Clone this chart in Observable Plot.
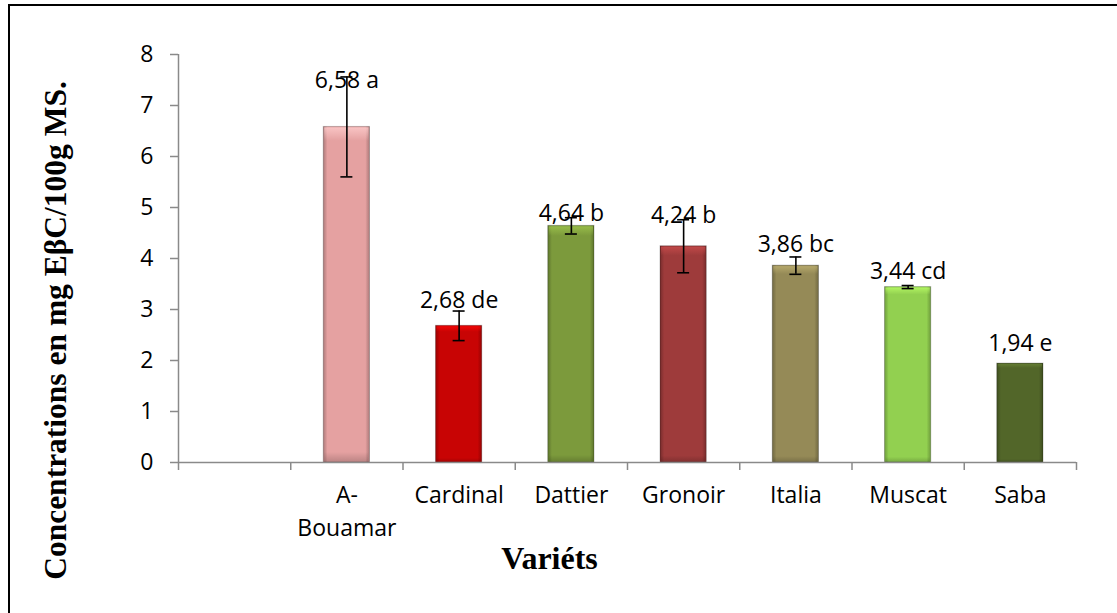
<!DOCTYPE html>
<html><head><meta charset="utf-8">
<script src="https://cdn.jsdelivr.net/npm/d3@7"></script>
<script src="https://cdn.jsdelivr.net/npm/@observablehq/plot@0.6"></script>
<style>
html,body{margin:0;padding:0;background:#fff;}
#wrap{position:relative;width:1117px;height:613px;overflow:hidden;background:#fff;}
#wrap svg{position:absolute;left:0;top:0;}
#border{position:absolute;left:8px;top:4px;width:1300px;height:900px;border-left:2px solid #000;border-top:2px solid #000;pointer-events:none;}
</style></head><body><div id="wrap"><div id="border"></div></div>
<script>
// ---- data ----
const categories = ["", "A-Bouamar", "Cardinal", "Dattier", "Gronoir", "Italia", "Muscat", "Saba"];
const tickLabels = ["", "A-\nBouamar", "Cardinal", "Dattier", "Gronoir", "Italia", "Muscat", "Saba"];
const values = [null, 6.58, 2.68, 4.64, 4.24, 3.86, 3.44, 1.94];
const errors = [null, 0.98, 0.29, 0.16, 0.52, 0.17, 0.03, 0];
const valueLabels = [null, "6,58 a", "2,68 de", "4,64 b", "4,24 b", "3,86 bc", "3,44 cd", "1,94 e"];
const labelAt = [null, 7.49, 3.18, 4.88, 4.84, 4.27, 3.75, 2.33];
const colors = [null, "#e5a1a1", "#c80404", "#7c9a3c", "#9e3b3b", "#958a57", "#92d050", "#526629"];
const yTicks = [0, 1, 2, 3, 4, 5, 6, 7, 8];
const yTitle = "Concentrations en mg EβC/100g MS.";
const xTitle = "Variéts";

// ---- table ----
const table = categories.map((c, i) => ({
  i, category: c, tick: tickLabels[i], value: values[i], err: errors[i],
  label: valueLabels[i], labelAt: labelAt[i], color: colors[i],
  grad: `url(#bar-grad-${i})`, shine: `url(#bar-shine-${i})`
}));
const bars = table.filter(d => d.value != null);
const errs = bars.filter(d => d.err > 0);
const caps = errs.flatMap(d => [{...d, y: d.value - d.err}, {...d, y: d.value + d.err}]);
const boundaries = d3.range(categories.length + 1);

const axisGrey = "#8a8a8a";

const svg = Plot.plot({
  width: 1117,
  height: 613,
  marginLeft: 178,
  marginRight: 41,
  marginTop: 54,
  marginBottom: 151,
  style: {fontFamily: "'Open Sans', sans-serif", fontSize: "23px", color: "#000", background: "transparent"},
  x: {domain: [0, categories.length]},
  y: {domain: [0, 8]},
  color: {type: "identity"},
  marks: [
    Plot.rectY(bars, {x1: "i", x2: d => d.i + 1, y1: 0, y2: "value", fill: "grad",
      insetLeft: 33, insetRight: 33, stroke: "rgba(0,0,0,0.22)", strokeWidth: 1}),
    Plot.rectY(bars, {x1: "i", x2: d => d.i + 1, y1: 0, y2: "value", fill: "shine",
      insetLeft: 34, insetRight: 34, insetTop: 1}),
    Plot.ruleY([0], {stroke: axisGrey, strokeWidth: 1.5}),
    Plot.ruleX([0], {stroke: axisGrey, strokeWidth: 1.5}),
    Plot.axisY({ticks: yTicks, tickSize: 8, tickPadding: 17, stroke: axisGrey, strokeWidth: 1.5, fill: "#000", label: null, fontSize: 23}),
    Plot.axisX({ticks: boundaries, tickSize: 8, tickFormat: () => "", stroke: axisGrey, strokeWidth: 1.5, label: null}),
    Plot.text(table, {x: d => d.i + 0.5, y: 0, text: "tick", lineAnchor: "top", dy: 17, lineHeight: 1.43, fontSize: 23, fill: "#000"}),
    Plot.text(bars, {x: d => d.i + 0.5, y: "labelAt", text: "label", fontSize: 23, fill: "#000"}),
    Plot.ruleX(errs, {x: d => d.i + 0.5, y1: d => d.value - d.err, y2: d => d.value + d.err, stroke: "#000", strokeWidth: 1.6}),
    Plot.ruleY(caps, {x1: d => d.i + 0.5, x2: d => d.i + 0.5, y: "y", insetLeft: -6, insetRight: -6, stroke: "#000", strokeWidth: 1.6}),
    Plot.text([xTitle], {text: d => d, frameAnchor: "bottom", lineAnchor: "middle", dx: -78, dy: 96, fontFamily: "'Liberation Serif', serif", fontWeight: "bold", fontSize: 32, fill: "#000"}),
    Plot.text([yTitle], {text: d => d, frameAnchor: "left", textAnchor: "middle", lineAnchor: "middle", rotate: -90, dx: -123, dy: 72, fontFamily: "'Liberation Serif', serif", fontWeight: "bold", fontSize: 31.5, fill: "#000"})
  ]
});

// bevel-like gradients for the bars
const defs = d3.select(svg).insert("defs", ":first-child");
bars.forEach(d => {
  const base = d3.color(d.color);
  const g = defs.append("linearGradient").attr("id", `bar-grad-${d.i}`).attr("x1", 0).attr("x2", 1).attr("y1", 0).attr("y2", 0);
  g.append("stop").attr("offset", "0%").attr("stop-color", base.darker(0.8).formatHex());
  g.append("stop").attr("offset", "9%").attr("stop-color", base.formatHex());
  g.append("stop").attr("offset", "91%").attr("stop-color", base.formatHex());
  g.append("stop").attr("offset", "100%").attr("stop-color", base.darker(0.8).formatHex());
  const s = defs.append("linearGradient").attr("id", `bar-shine-${d.i}`).attr("x1", 0).attr("x2", 0).attr("y1", 0).attr("y2", 1);
  const light = base.brighter(0.7).formatHex();
  s.append("stop").attr("offset", "0%").attr("stop-color", light).attr("stop-opacity", 0.75);
  s.append("stop").attr("offset", "4%").attr("stop-color", light).attr("stop-opacity", 0);
  s.append("stop").attr("offset", "97%").attr("stop-color", "#000").attr("stop-opacity", 0);
  s.append("stop").attr("offset", "100%").attr("stop-color", "#000").attr("stop-opacity", 0.18);
});

const wrap = document.getElementById("wrap");
wrap.insertBefore(svg, document.getElementById("border"));
</script>
</body></html>
